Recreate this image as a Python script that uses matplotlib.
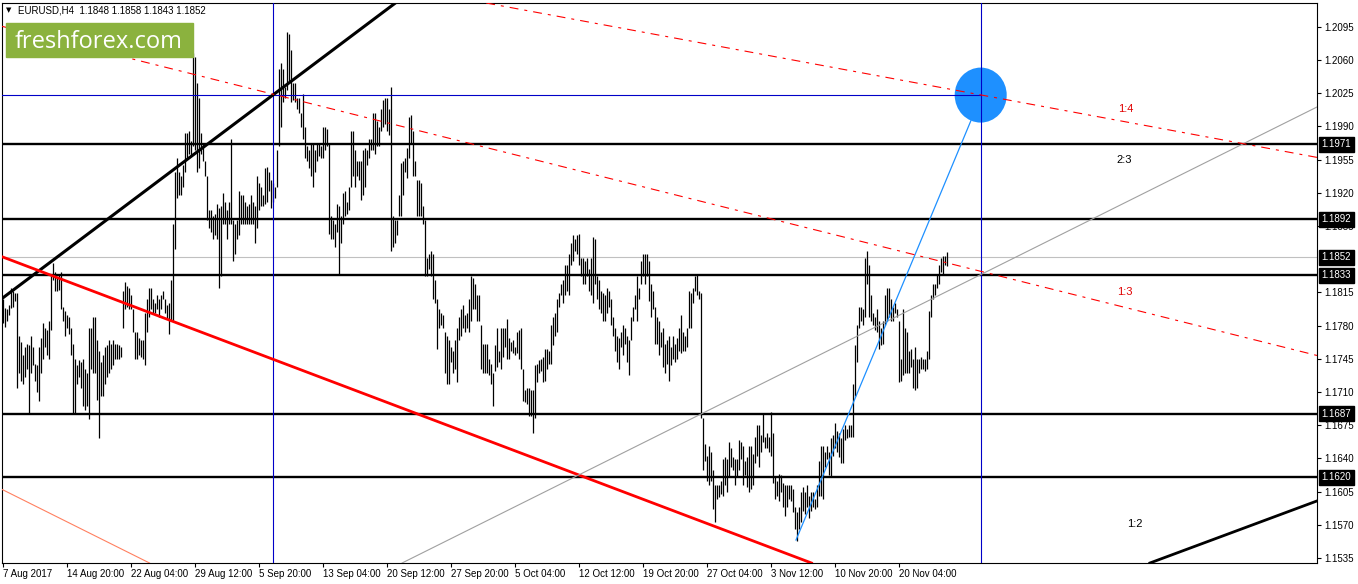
import numpy as np
import matplotlib
matplotlib.use("Agg")
import matplotlib.pyplot as plt
import matplotlib.transforms as mtransforms
from matplotlib.patches import Ellipse, Rectangle

plt.rcParams['font.family'] = ['Liberation Sans', 'DejaVu Sans']

# EURUSD H4 bars, high / low in points (price * 10000)
high_pts = [
    # 7 Aug -> 14 Aug
    11808, 11798, 11797, 11802, 11820, 11816, 11814, 11814, 11769, 11763,
    11749, 11757, 11761, 11759, 11769, 11757, 11740, 11738, 11757, 11767,
    11783, 11777, 11775, 11785, 11832, 11846, 11836, 11830, 11834, 11836,
    11800, 11795, 11791, 11789, 11777, 11761, 11745, 11738, 11744, 11742,
    11745, 11734, 11730, 11777, 11777, 11789, 11789, 11765, 11753, 11742,
    11749, 11757, 11759, 11765, 11761, 11765, 11761, 11761, 11759, 11757,
    11816, 11826, 11822, 11820, 11812, 11797, 11773, 11773, 11767, 11765,
    11765, 11793, 11808, 11820, 11820, 11808, 11804, 11812, 11808, 11812, 11816,
    # late Aug -> early Sep
    11808, 11802, 11804, 11828, 11887, 11942, 11957, 11942, 11938, 11949,
    11983, 11983, 11985, 11975, 12067, 12063, 12036, 12020, 11983, 11973,
    11953, 11938, 11902, 11902, 11895, 11898, 11908, 11904, 11906, 11920,
    11910, 11902, 11910, 11977, 11891, 11887, 11891, 11922, 11918, 11918,
    11910, 11906, 11908, 11918, 11910, 11906, 11938, 11930, 11926, 11918,
    11946, 11947, 11942, 11934, 11930, 11926, 11965, 12051, 12057, 12051,
    12032, 12089, 12087, 12071, 12036, 12036, 12020, 12020, 12004, 12024,
    11989, 11969, 11965, 11973, 11973, 11965, 11973, 11973, 11969, 11989,
    # Sep
    11989, 11987, 11973, 11895, 11891, 11887, 11908, 11906, 11896, 11920,
    11922, 11910, 11926, 11985, 11985, 11965, 11953, 11953, 11953, 11965,
    11967, 11965, 11977, 11977, 12004, 12004, 11996, 11989, 12008, 12018,
    12020, 12020, 12008, 12032, 11895, 11891, 11891, 11918, 11951, 11953,
    11957, 11967, 12000, 12002, 11985, 11953, 11934, 11934, 11930, 11906,
    11891, 11851, 11855, 11859, 11855, 11828, 11808, 11797, 11793, 11791,
    11773, 11769, 11765, 11757, 11753, 11765, 11777, 11789, 11797, 11802,
    11791, 11793, 11808, 11832, 11830, 11824, 11812, 11812, 11781, 11761,
    # Oct
    11761, 11761, 11745, 11740, 11730, 11759, 11777, 11753, 11777, 11777,
    11777, 11787, 11767, 11763, 11765, 11757, 11773, 11775, 11777, 11734,
    11712, 11714, 11714, 11712, 11712, 11738, 11740, 11744, 11745, 11747,
    11755, 11755, 11753, 11781, 11789, 11793, 11808, 11814, 11824, 11828,
    11844, 11844, 11855, 11867, 11875, 11871, 11875, 11877, 11851, 11851,
    11848, 11851, 11840, 11851, 11873, 11871, 11832, 11828, 11816, 11814,
    11812, 11820, 11816, 11808, 11789, 11777, 11769, 11767, 11773, 11781,
    11777, 11769, 11765, 11789, 11800, 11812, 11832, 11820, 11848, 11855,
    # late Oct -> early Nov
    11855, 11855, 11848, 11824, 11816, 11800, 11789, 11785, 11773, 11777,
    11761, 11765, 11769, 11757, 11769, 11761, 11767, 11777, 11791, 11773,
    11769, 11777, 11816, 11814, 11820, 11832, 11834, 11816, 11814, 11683,
    11655, 11643, 11653, 11647, 11628, 11612, 11612, 11612, 11616, 11639,
    11641, 11639, 11657, 11651, 11641, 11639, 11639, 11659, 11657, 11653,
    11637, 11641, 11653, 11653, 11645, 11663, 11675, 11675, 11665, 11687,
    11663, 11667, 11663, 11689, 11667, 11620, 11616, 11624, 11622, 11614,
    11612, 11612, 11612, 11612, 11608, 11589, 11583, 11589, 11604, 11610,
    # Nov
    11604, 11612, 11600, 11604, 11604, 11597, 11612, 11637, 11653, 11653,
    11647, 11653, 11647, 11661, 11665, 11677, 11669, 11667, 11661, 11671,
    11675, 11671, 11675, 11675, 11718, 11759, 11781, 11800, 11800, 11797,
    11851, 11859, 11844, 11812, 11793, 11789, 11797, 11785, 11777, 11785,
    11812, 11820, 11820, 11808, 11800, 11804, 11797, 11785, 11745, 11797,
    11777, 11773, 11753, 11755, 11745, 11757, 11745, 11745, 11747, 11745,
    11745, 11753, 11795, 11812, 11824, 11824, 11834, 11844, 11851, 11853,
    11853, 11858,
]
low_pts = [
    11783, 11779, 11785, 11791, 11798, 11800, 11806, 11714, 11730, 11722,
    11718, 11726, 11734, 11687, 11730, 11738, 11722, 11710, 11700, 11730,
    11745, 11757, 11749, 11745, 11775, 11828, 11816, 11816, 11818, 11797,
    11785, 11769, 11777, 11771, 11749, 11687, 11687, 11718, 11726, 11714,
    11695, 11691, 11695, 11681, 11734, 11730, 11730, 11702, 11661, 11706,
    11706, 11718, 11726, 11730, 11734, 11738, 11745, 11745, 11745, 11747,
    11777, 11797, 11800, 11797, 11797, 11773, 11745, 11745, 11749, 11747,
    11745, 11738, 11773, 11789, 11797, 11793, 11793, 11797, 11789, 11797, 11808,
    11793, 11787, 11771, 11785, 11785, 11861, 11914, 11918, 11918, 11926,
    11942, 11957, 11961, 11959, 11969, 11965, 11942, 11946, 11961, 11953,
    11938, 11891, 11883, 11879, 11871, 11875, 11871, 11820, 11832, 11887,
    11887, 11871, 11887, 11887, 11848, 11855, 11871, 11875, 11887, 11887,
    11887, 11887, 11887, 11887, 11887, 11867, 11883, 11902, 11906, 11906,
    11908, 11910, 11922, 11904, 11910, 11914, 11926, 11969, 11989, 12016,
    12020, 12028, 12036, 12016, 12018, 12016, 12008, 12004, 11989, 11977,
    11957, 11953, 11946, 11938, 11926, 11942, 11953, 11959, 11957, 11957,
    11965, 11969, 11877, 11871, 11871, 11863, 11879, 11834, 11867, 11887,
    11895, 11898, 11902, 11926, 11938, 11926, 11938, 11934, 11912, 11918,
    11926, 11949, 11957, 11965, 11965, 11961, 11969, 11969, 11985, 11989,
    11993, 11985, 11981, 11859, 11863, 11867, 11875, 11895, 11895, 11918,
    11942, 11936, 11957, 11973, 11938, 11938, 11895, 11896, 11895, 11887,
    11832, 11832, 11840, 11832, 11808, 11804, 11755, 11777, 11781, 11777,
    11730, 11718, 11718, 11742, 11730, 11734, 11720, 11765, 11769, 11777,
    11773, 11777, 11773, 11785, 11797, 11797, 11785, 11785, 11734, 11730,
    11730, 11730, 11728, 11718, 11695, 11732, 11736, 11742, 11734, 11747,
    11757, 11745, 11745, 11753, 11751, 11749, 11751, 11745, 11734, 11700,
    11699, 11697, 11685, 11685, 11667, 11683, 11720, 11730, 11732, 11720,
    11722, 11734, 11740, 11740, 11759, 11769, 11773, 11800, 11812, 11804,
    11812, 11816, 11812, 11844, 11848, 11859, 11855, 11844, 11832, 11824,
    11824, 11832, 11816, 11812, 11804, 11824, 11808, 11797, 11793, 11785,
    11785, 11793, 11800, 11781, 11769, 11753, 11742, 11734, 11757, 11749,
    11761, 11742, 11728, 11765, 11785, 11797, 11785, 11808, 11824, 11832,
    11824, 11832, 11806, 11789, 11797, 11761, 11761, 11749, 11757, 11736,
    11730, 11740, 11722, 11738, 11745, 11742, 11745, 11753, 11751, 11753,
    11753, 11757, 11777, 11777, 11804, 11816, 11812, 11808, 11683, 11628,
    11637, 11616, 11612, 11616, 11587, 11573, 11597, 11599, 11602, 11600,
    11612, 11604, 11620, 11631, 11628, 11612, 11620, 11628, 11639, 11612,
    11622, 11610, 11604, 11608, 11612, 11635, 11643, 11631, 11647, 11657,
    11651, 11651, 11647, 11643, 11614, 11597, 11600, 11595, 11604, 11589,
    11579, 11589, 11597, 11595, 11583, 11565, 11553, 11565, 11573, 11585,
    11581, 11589, 11577, 11585, 11589, 11587, 11589, 11600, 11600, 11597,
    11631, 11639, 11622, 11620, 11643, 11651, 11647, 11641, 11635, 11635,
    11659, 11661, 11663, 11663, 11663, 11706, 11742, 11777, 11785, 11781,
    11789, 11824, 11789, 11785, 11781, 11775, 11773, 11755, 11759, 11761,
    11781, 11785, 11789, 11785, 11785, 11793, 11789, 11720, 11722, 11728,
    11730, 11730, 11730, 11736, 11714, 11712, 11714, 11730, 11734, 11734,
    11732, 11734, 11745, 11789, 11808, 11812, 11820, 11824, 11836, 11834,
    11844, 11843,
]
highs = np.array(high_pts) / 1e4
lows = np.array(low_pts) / 1e4
bars = np.arange(len(highs))

date_labels = ["7 Aug 2017", "14 Aug 20:00", "22 Aug 04:00", "29 Aug 12:00",
               "5 Sep 20:00", "13 Sep 04:00", "20 Sep 12:00", "27 Sep 20:00",
               "5 Oct 04:00", "12 Oct 12:00", "19 Oct 20:00", "27 Oct 04:00",
               "3 Nov 12:00", "10 Nov 20:00", "20 Nov 04:00"]
bars_per_label = 32

price_ticks = [1.2095, 1.2060, 1.2025, 1.1990, 1.1955, 1.1920, 1.1885,
               1.1815, 1.1780, 1.1745, 1.1710, 1.1675, 1.1640, 1.1605, 1.1570, 1.1535]

levels = [1.1971, 1.1892, 1.1833, 1.1687, 1.1620]
last_price = 1.1852
target_level = 1.2023
target_bars = [135.3, 489.0]

# trend lines as (bar, price) anchor pairs
black_up = [(0, 1.18091), (158.65, 1.20604)]
black_low = [(573.65, 1.15297), (657.15, 1.15951)]
red_thick = [(0, 1.18523), (238.65, 1.16619)]
red_thin = [(0, 1.16069), (72.8, 1.15303)]
red_dash_top = [(238.65, 1.21213), (656.15, 1.19577)]
red_dash_mid = [(0, 1.20953), (656.15, 1.17490)]
gray_line = [(200.3, 1.15303), (656.15, 1.20094)]
blue_move = [(396.65, 1.15539), (484.65, 1.19988)]

ratio_text = [("1:4", 561.4, 1.20083, "#e00000"), ("2:3", 560.6, 1.19546, "black"),
              ("1:3", 561.2, 1.18154, "#e00000"), ("1:2", 566.2, 1.15708, "black")]

W, H = 1358, 584
fig = plt.figure(figsize=(W / 100, H / 100), dpi=100)
ax = fig.add_axes([2 / W, (H - 563) / H, 1315 / W, 560 / H])
ax.set_xlim(-0.35, 657.15)
ax.set_ylim(1.152967, 1.212009)

ax.vlines(bars, lows, highs, color="black", lw=0.9, zorder=2)

for lvl in levels:
    ax.axhline(lvl, color="black", lw=1.7, zorder=3)
ax.axhline(last_price, color="#c0c0c0", lw=0.8, zorder=1.5)
ax.plot([-1, target_bars[1]], [target_level, target_level], color="#0000c8", lw=0.8, zorder=3)
for tb in target_bars:
    ax.axvline(tb, color="#0000c8", lw=0.8, zorder=3)

ax.add_patch(Ellipse((target_bars[1], target_level), 26, 0.0058, color="#1e90ff", zorder=2.5, lw=0))

dashdot = (0, (8, 5.4, 2.7, 5.4))
ax.axline(*black_up, color="black", lw=2.2, zorder=3)
ax.axline(*black_low, color="black", lw=2.0, zorder=3)
ax.axline(*red_thick, color="#ff0000", lw=2.0, zorder=3)
ax.axline(*red_thin, color="#ff8060", lw=0.8, zorder=3)
ax.axline(*red_dash_top, color="#ff0000", lw=0.8, ls=dashdot, zorder=3.2)
ax.axline(*red_dash_mid, color="#ff0000", lw=0.8, ls=dashdot, zorder=3.2)
ax.axline(*gray_line, color="#a0a0a0", lw=0.8, zorder=3)
ax.plot([p[0] for p in blue_move], [p[1] for p in blue_move], color="#1e90ff", lw=0.9, zorder=3)

for txt, bx, py, col in ratio_text:
    ax.text(bx, py, txt, color=col, fontsize=8, ha="center", va="center", zorder=4)

# axes
for s in ax.spines.values():
    s.set_linewidth(0.8)
ax.yaxis.tick_right()
ax.set_yticks(price_ticks)
ax.set_yticklabels([f"{p:.4f}" for p in price_ticks])
ax.tick_params(axis="y", direction="out", length=3, width=0.8, pad=2, labelsize=7)
xt = [i * bars_per_label for i in range(len(date_labels))]
ax.set_xticks(xt)
ax.set_xticklabels(date_labels, ha="left")
ax.tick_params(axis="x", direction="out", length=3, width=0.8, pad=1, labelsize=7)

trans = mtransforms.blended_transform_factory(ax.transAxes, ax.transData)
for lvl in levels + [last_price]:
    ax.text(1.0035, lvl, f"{lvl:.4f}", transform=trans, color="white", fontsize=7,
            ha="left", va="center", clip_on=False, zorder=6,
            bbox=dict(boxstyle="square,pad=0.25", fc="black", ec="black"))

# header and logo
fig.text(6 / W, 1 - 10.5 / H, "\u25bc", fontsize=5, va="center", family="DejaVu Sans")
fig.text(18 / W, 1 - 10.5 / H, "EURUSD,H4  1.1848 1.1858 1.1843 1.1852", fontsize=7, va="center")
fig.patches.append(Rectangle((6 / W, 1 - 57 / H), 187 / W, 34 / H, transform=fig.transFigure,
                             color="#8bb23e", zorder=5))
fig.text(15 / W, 1 - 48 / H, "freshforex.com", color="white", fontsize=17,
         family="Open Sans", va="baseline", zorder=6)

fig.savefig("out.png", dpi=100)
